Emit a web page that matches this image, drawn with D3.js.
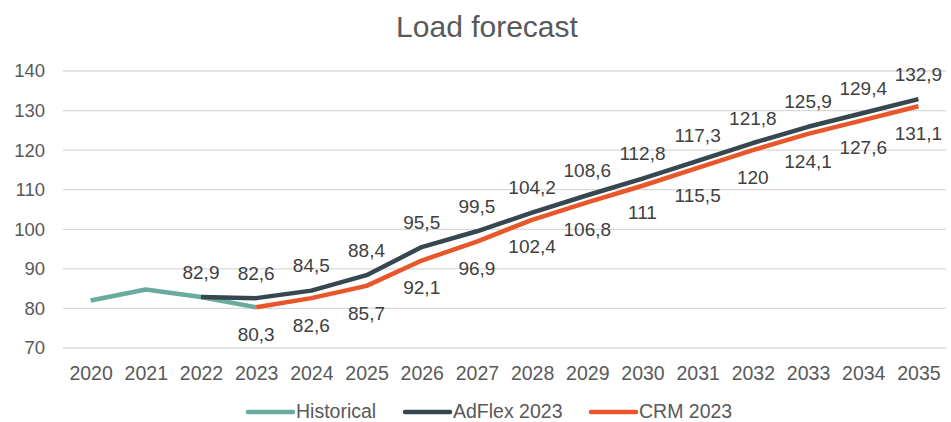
<!DOCTYPE html>
<html>
<head>
<meta charset="utf-8">
<script src="https://cdn.jsdelivr.net/npm/d3@7"></script>
<style>
  html, body { margin: 0; padding: 0; background: #fff; }
  svg { display: block; font-family: "Liberation Sans", Arial, sans-serif; }
</style>
</head>
<body>
<svg id="chart" width="951" height="422"></svg>
<script>
// Years on the category axis
const years = ["2020","2021","2022","2023","2024","2025","2026","2027","2028","2029","2030","2031","2032","2033","2034","2035"];

// Load values (null where a series has no value)
const historical = [82.0, 84.8, 82.9, 80.3, null, null, null, null, null, null, null, null, null, null, null, null];
const adflex2023 = [null, null, 82.9, 82.6, 84.5, 88.4, 95.5, 99.5, 104.2, 108.6, 112.8, 117.3, 121.8, 125.9, 129.4, 132.9];
const crm2023    = [null, null, null, 80.3, 82.6, 85.7, 92.1, 96.9, 102.4, 106.8, 111, 115.5, 120, 124.1, 127.6, 131.1];

const yTicks = [70, 80, 90, 100, 110, 120, 130, 140];

const series = [
  { name: "Historical",  values: historical, color: "#6aab9f", labels: null },
  { name: "AdFlex 2023", values: adflex2023, color: "#36474f", labels: "above" },
  { name: "CRM 2023",    values: crm2023,    color: "#e8562a", labels: "below" }
];

const svg = d3.select("#chart");
const fmt = v => String(v).replace(".", ",");

const x = d3.scalePoint().domain(years).range([63, 946]).padding(0.5);
const y = d3.scaleLinear().domain([70, 140]).range([348, 71]);

// Title
svg.append("text")
  .attr("x", 487).attr("y", 37)
  .attr("text-anchor", "middle")
  .attr("font-size", 30)
  .attr("fill", "#595959")
  .text("Load forecast");

// Horizontal gridlines
svg.append("g").selectAll("line").data(yTicks).join("line")
  .attr("x1", 63).attr("x2", 946)
  .attr("y1", d => y(d)).attr("y2", d => y(d))
  .attr("stroke", "#d9d9d9").attr("stroke-width", 1.3);

// Y axis labels
const yAxis = d3.axisLeft(y).tickValues(yTicks).tickSize(0).tickPadding(0);
svg.append("g").attr("transform", "translate(45,0)").call(yAxis)
  .call(g => g.select(".domain").remove())
  .call(g => g.selectAll("text").attr("font-size", 18.5).attr("fill", "#595959")
    .attr("font-family", "Liberation Sans, Arial, sans-serif"));

// X axis labels
const xAxis = d3.axisBottom(x).tickSize(0).tickPadding(0);
svg.append("g").attr("transform", "translate(0,366)").call(xAxis)
  .call(g => g.select(".domain").remove())
  .call(g => g.selectAll("text").attr("font-size", 19.5).attr("fill", "#595959")
    .attr("font-family", "Liberation Sans, Arial, sans-serif"));

// Series lines
const line = d3.line()
  .defined(d => d.v != null)
  .x(d => x(d.year))
  .y(d => y(d.v));

series.forEach(s => {
  const pts = years.map((year, i) => ({ year, v: s.values[i] }));
  svg.append("path")
    .datum(pts)
    .attr("d", line)
    .attr("fill", "none")
    .attr("stroke", s.color)
    .attr("stroke-width", 4.5)
    .attr("stroke-linejoin", "round")
    .attr("stroke-linecap", "butt");

  if (s.labels) {
    const off = s.labels === "above" ? -25 : 27;
    svg.append("g").selectAll("text")
      .data(pts.filter(d => d.v != null))
      .join("text")
      .attr("x", d => x(d.year))
      .attr("y", d => y(d.v) + off)
      .attr("dy", "0.35em")
      .attr("text-anchor", "middle")
      .attr("font-size", 19)
      .attr("fill", "#404040")
      .text(d => fmt(d.v));
  }
});

// Legend along the bottom edge
const legendItems = [
  { s: series[0], x: 248 },
  { s: series[1], x: 405 },
  { s: series[2], x: 591 }
];
const lg = svg.append("g");
legendItems.forEach(it => {
  lg.append("line")
    .attr("x1", it.x).attr("x2", it.x + 45)
    .attr("y1", 412).attr("y2", 412)
    .attr("stroke", it.s.color).attr("stroke-width", 4.5)
    .attr("stroke-linecap", "round");
  lg.append("text")
    .attr("x", it.x + 48).attr("y", 418)
    .attr("font-size", 19.5)
    .attr("fill", "#595959")
    .text(it.s.name);
});
</script>
</body>
</html>
